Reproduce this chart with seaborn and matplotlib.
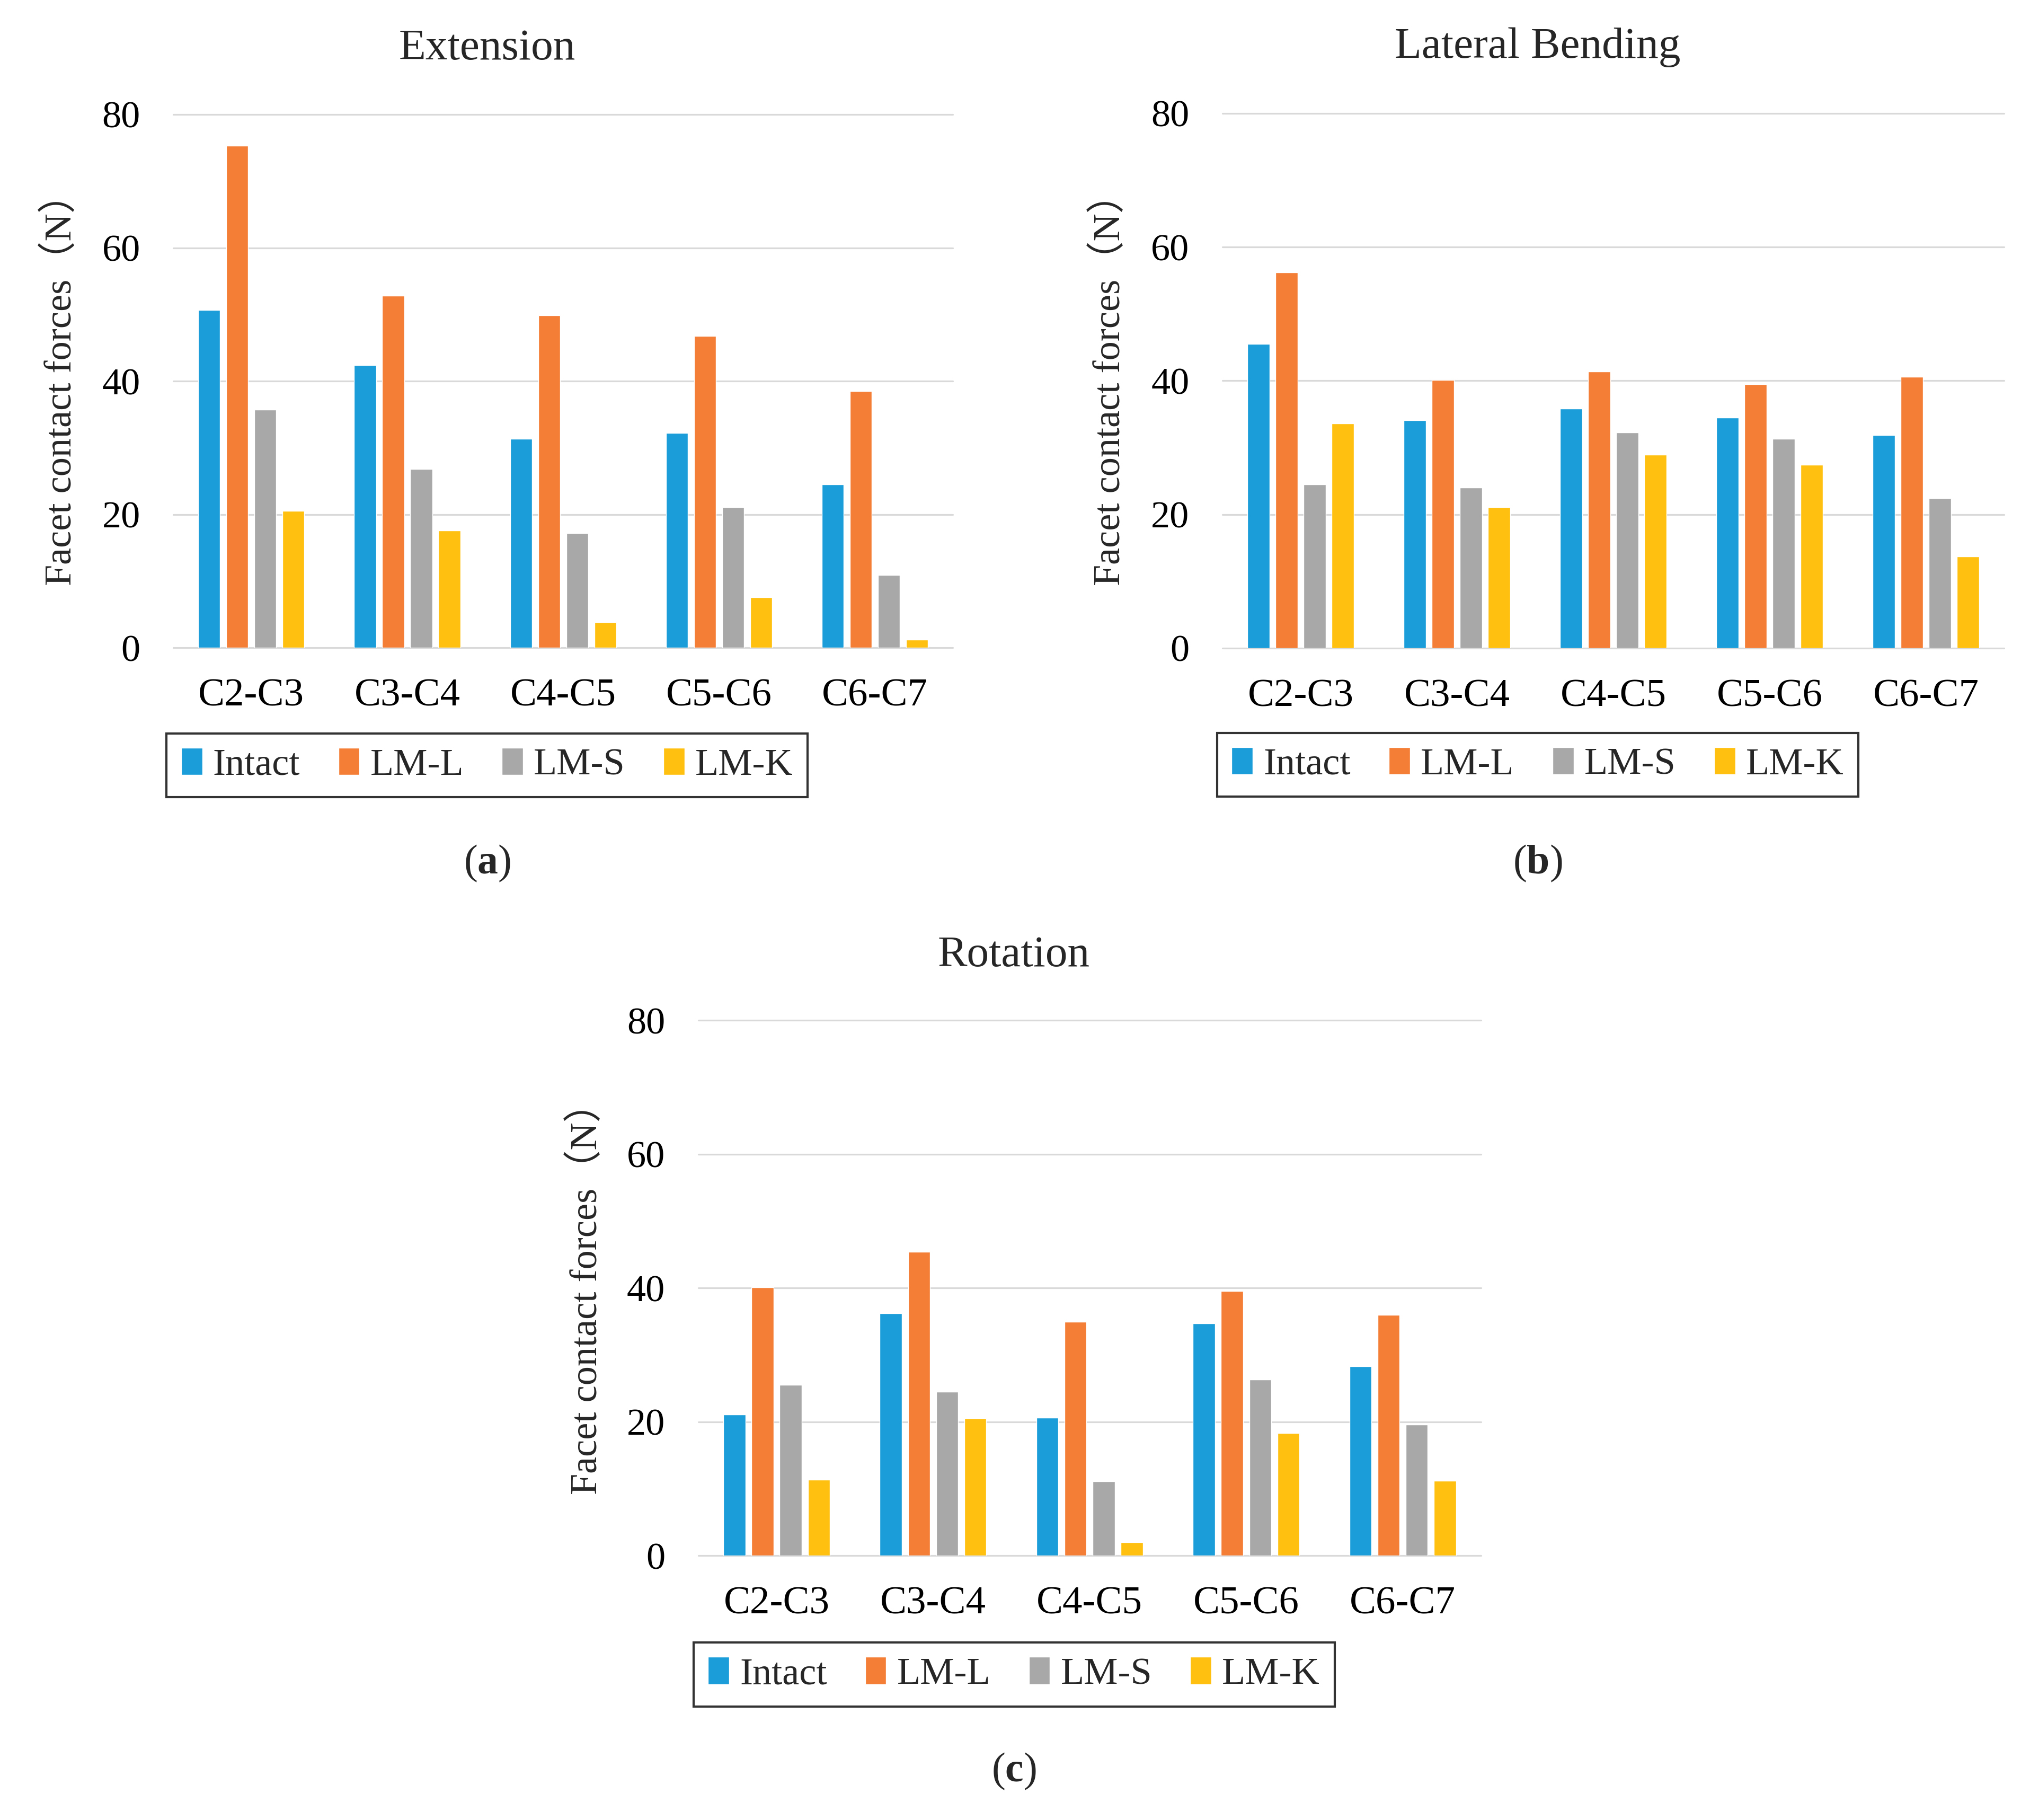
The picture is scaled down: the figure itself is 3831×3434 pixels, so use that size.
import matplotlib
matplotlib.use("Agg")
import matplotlib.pyplot as plt
import seaborn as sns
import pandas as pd

# Dados (forças de contato facetário, N)
segmentos = ['C2-C3', 'C3-C4', 'C4-C5', 'C5-C6', 'C6-C7']
modelos = ['Intact', 'LM-L', 'LM-S', 'LM-K']
cores = ['#1A9DD9', '#F47E36', '#A8A8A8', '#FFC010']

ext_intact = [50.7, 42.4, 31.3, 32.2, 24.5]
ext_lml = [75.3, 52.8, 49.9, 46.8, 38.5]
ext_lms = [35.7, 26.8, 17.2, 21.1, 10.9]
ext_lmk = [20.5, 17.6, 3.8, 7.6, 1.2]

lat_intact = [45.5, 34.1, 35.8, 34.5, 31.9]
lat_lml = [56.2, 40.1, 41.4, 39.5, 40.6]
lat_lms = [24.5, 24.0, 32.3, 31.3, 22.4]
lat_lmk = [33.6, 21.1, 28.9, 27.4, 13.7]

rot_intact = [21.1, 36.2, 20.6, 34.7, 28.3]
rot_lml = [40.1, 45.4, 34.9, 39.5, 36.0]
rot_lms = [25.5, 24.5, 11.1, 26.3, 19.6]
rot_lmk = [11.3, 20.5, 2.0, 18.3, 11.2]

titulos = ['Extension', 'Lateral Bending', 'Rotation']
letras = ['a', 'b', 'c']
ylabel = 'Facet contact forces（N）'

sns.set_theme(style='white')
plt.rcParams['font.family'] = ['Liberation Serif', 'Noto Sans CJK SC']
plt.rcParams['mathtext.fontset'] = 'custom'
plt.rcParams['mathtext.rm'] = 'Liberation Serif'
plt.rcParams['mathtext.bf'] = 'Liberation Serif:bold'


def tabela(series):
    linhas = []
    for modelo, valores in zip(modelos, series):
        for seg, v in zip(segmentos, valores):
            linhas.append({'Segmento': seg, 'Modelo': modelo, 'Força': v})
    return pd.DataFrame(linhas)


dados = [
    tabela([ext_intact, ext_lml, ext_lms, ext_lmk]),
    tabela([lat_intact, lat_lml, lat_lms, lat_lmk]),
    tabela([rot_intact, rot_lml, rot_lms, rot_lmk]),
]

fig = plt.figure(figsize=(38.31, 34.34), dpi=100)

# posições: [left, bottom, width, height]
caixas = [
    [0.0854, 0.6441, 0.3840, 0.2930],
    [0.6022, 0.6439, 0.3850, 0.2938],
    [0.3440, 0.1453, 0.3855, 0.2941],
]
centro_x = [0.2400, 0.7575, 0.4995]
titulo_y = [0.9730, 0.9740, 0.4750]
letra_y = [0.5255, 0.5255, 0.0268]
legenda_y = [0.5795, 0.5798, 0.0800]
ylabel_x = [0.0300, 0.5465, 0.2890]
ylabel_y = [0.7910, 0.7910, 0.2915]

for i, df in enumerate(dados):
    ax = fig.add_axes(caixas[i])
    sns.barplot(data=df, x='Segmento', y='Força', hue='Modelo',
                palette=cores, width=0.72, gap=0.22, ax=ax,
                saturation=1, zorder=3)
    ax.set_ylim(0, 80)
    ax.set_yticks([0, 20, 40, 60, 80])
    ax.set_xlabel('')
    ax.set_ylabel('')
    for s in ax.spines.values():
        s.set_visible(False)
    ax.yaxis.grid(True, color='#D9D9D9', linewidth=2.3)
    for linha in ax.get_ygridlines():
        linha.set_clip_on(False)
    ax.set_axisbelow(True)
    ax.tick_params(axis='y', length=0, pad=45, labelsize=52, labelcolor='black')
    ax.tick_params(axis='x', length=0, pad=42, labelsize=54, labelcolor='black')

    handles, labels = ax.get_legend_handles_labels()
    leg = ax.legend(handles, labels, loc='center', ncol=4,
                    bbox_to_anchor=(centro_x[i], legenda_y[i]),
                    bbox_transform=fig.transFigure, fontsize=52,
                    frameon=True, fancybox=False, edgecolor='black',
                    handlelength=0.55, handleheight=0.72, handletextpad=0.28,
                    columnspacing=1.0, borderpad=0.38)
    leg.get_frame().set_linewidth(3)

    fig.text(centro_x[i], titulo_y[i], titulos[i], ha='center', va='center', fontsize=60)
    fig.text(centro_x[i], letra_y[i], '($\\mathbf{' + letras[i] + '}$)',
             ha='center', va='center', fontsize=56)
    fig.text(ylabel_x[i], ylabel_y[i], ylabel, rotation=90,
             ha='center', va='center', fontsize=52)

plt.savefig('out.png', dpi=100)
print('Figura salva em out.png')
